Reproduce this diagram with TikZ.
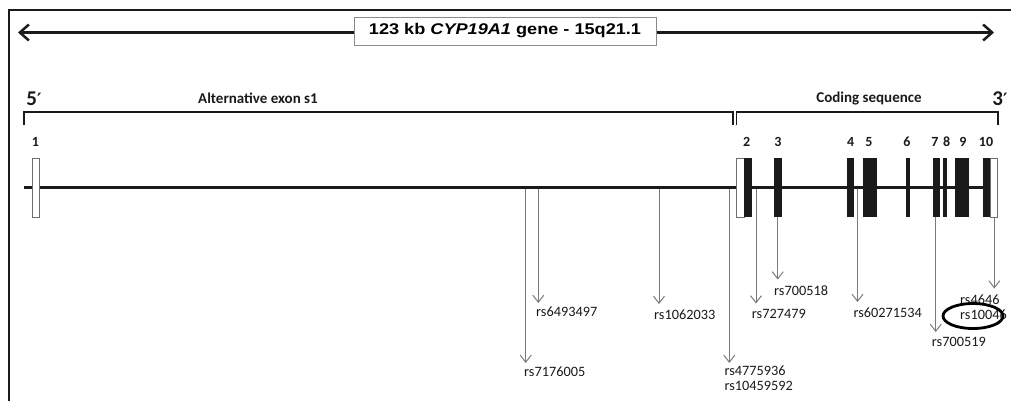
\documentclass[tikz,border=0pt]{standalone}
\usepackage{fontspec}
\setmainfont{Carlito}
\newfontfamily\arialfont{Liberation Sans}
\newfontfamily\primefont{DejaVu Sans}
\usetikzlibrary{arrows.meta,shapes.geometric}
\definecolor{snpgray}{HTML}{7A7A7A}
\definecolor{ink}{HTML}{1A1A1A}
\definecolor{boxgray}{HTML}{8A8A8A}
\begin{document}
\begin{tikzpicture}[x=1pt,y=-1pt,
  snp/.style={draw=snpgray, line width=1pt, -{Straight Barb[length=7pt,width=11pt,line width=1pt]}},
  snplab/.style={anchor=west, inner sep=0pt, font=\fontsize{14.3}{14.8}\selectfont, text=ink, align=left},
  exlab/.style={inner sep=0pt, font=\bfseries\fontsize{14}{16}\selectfont, text=ink},
  seclab/.style={inner sep=0pt, font=\bfseries\fontsize{15}{17}\selectfont, text=ink},
  endlab/.style={inner sep=0pt, font=\bfseries\fontsize{21}{23}\selectfont, text=ink},
  wexon/.style={draw=boxgray!80!black, fill=white, line width=0.8pt},
  bexon/.style={fill=ink},
  brk/.style={draw=ink, line width=1.8pt},
]
\useasboundingbox (0,0) rectangle (1011,400);
% frame
\draw[line width=2pt, ink] (9,410) -- (9,10) -- (1020,10);
% top arrow and title
\coordinate (aL) at (18,32.5);
\coordinate (aR) at (994,32.5);
\node[draw=boxgray, fill=white, line width=1pt, minimum width=302pt, minimum height=28pt, inner sep=0pt] (title) at (505,31)
  {\arialfont\bfseries\fontsize{15.5}{17}\selectfont\scalebox{1.17}[1]{123 kb \textit{CYP19A1} gene - 15q21.1}};
\draw[line width=2.5pt, ink, -{Straight Barb[length=9pt,width=16pt]}] (title.west |- aL) -- (aL);
\draw[line width=2.5pt, ink, -{Straight Barb[length=9pt,width=16pt]}] (title.east |- aR) -- (aR);
% ends and section labels
\node[endlab] (five) at (34,99) {5{\primefont\fontsize{17}{19}\selectfont ′}};
\node[endlab] (three) at (1000,99) {3{\primefont\fontsize{17}{19}\selectfont ′}};
\node[seclab] (alt) at (258,98) {Alternative exon s1};
\node[seclab] (cds) at (869,99) {Coding sequence};
% brackets
\coordinate (b1a) at (24,125); \coordinate (b1b) at (24,112);
\coordinate (b1c) at (733,112); \coordinate (b1d) at (733,125);
\draw[brk] (b1a) -- (b1b) -- (b1c) -- (b1d);
\coordinate (b2a) at (736.5,125); \coordinate (b2b) at (736.5,112);
\coordinate (b2c) at (997.7,112); \coordinate (b2d) at (997.7,125);
\draw[brk] (b2a) -- (b2b) -- (b2c) -- (b2d);
% backbone
\coordinate (gL) at (24,187.5); \coordinate (gR) at (986,187.5);
\draw[line width=3pt, ink] (gL) -- (gR);
% exons
\draw[wexon] (32,158) rectangle (39,217);
\draw[wexon] (736.7,158) rectangle (744.3,217);
\fill[bexon] (744.3,158) rectangle (751.7,217);
\fill[bexon] (774,158) rectangle (781.7,217);
\fill[bexon] (847.3,158) rectangle (854.3,217);
\fill[bexon] (862.7,158) rectangle (876.7,217);
\fill[bexon] (905.7,158) rectangle (910.3,217);
\fill[bexon] (933,158) rectangle (940,217);
\fill[bexon] (943,158) rectangle (947.3,217);
\fill[bexon] (955.3,158) rectangle (969.3,217);
\fill[bexon] (983.3,158) rectangle (990,217);
\draw[wexon] (990,158) rectangle (997.7,217);
% exon labels
\node[exlab] (e1) at (35.5,142) {1};
\node[exlab] (e2) at (746.7,142) {2};
\node[exlab] (e3) at (778,142) {3};
\node[exlab] (e4) at (850.7,142) {4};
\node[exlab] (e5) at (869,142) {5};
\node[exlab] (e6) at (907,142) {6};
\node[exlab] (e7) at (935,142) {7};
\node[exlab] (e8) at (946.7,142) {8};
\node[exlab] (e9) at (963,142) {9};
\node[exlab] (e10) at (986,142) {10};
% SNP labels
\node[snplab] (r1) at (524,372) {rs7176005};
\node[snplab] (r2) at (536,312) {rs6493497};
\node[snplab] (r3) at (654,315) {rs1062033};
\node[snplab, anchor=north west] (r4) at (724.3,365.5) {rs4775936\\rs10459592};
\node[snplab] (r5) at (751.7,314.3) {rs727479};
\node[snplab] (r6) at (774,291) {rs700518};
\node[snplab] (r7) at (853.3,312.7) {rs60271534};
\node[snplab] (r8) at (931.7,342.3) {rs700519};
\node[snplab, anchor=north west] (r9) at (960,294.5) {rs4646\\rs10046};
% SNP arrows
\coordinate (s1) at (525.7,189); \coordinate (t1) at (525.7,363);
\coordinate (s2) at (538.3,189); \coordinate (t2) at (538.3,303);
\coordinate (s3) at (659,189); \coordinate (t3) at (659,304);
\coordinate (s4) at (729.3,189); \coordinate (t4) at (729.3,363);
\coordinate (s5) at (756,189); \coordinate (t5) at (756,303.5);
\coordinate (s6) at (777.7,217); \coordinate (t6) at (777.7,279.5);
\coordinate (s7) at (857.5,189); \coordinate (t7) at (857.5,302);
\coordinate (s8) at (935.7,217); \coordinate (t8) at (935.7,332);
\coordinate (s9) at (994.3,217); \coordinate (t9) at (994.3,288.5);
\foreach \i in {1,...,9} {\draw[snp] (s\i) -- (t\i);}
% highlight ellipse
\node[draw=black, line width=2.8pt, ellipse, minimum width=60pt, minimum height=25pt, inner sep=0pt] (hl) at (973,316) {};
\end{tikzpicture}
\end{document}
